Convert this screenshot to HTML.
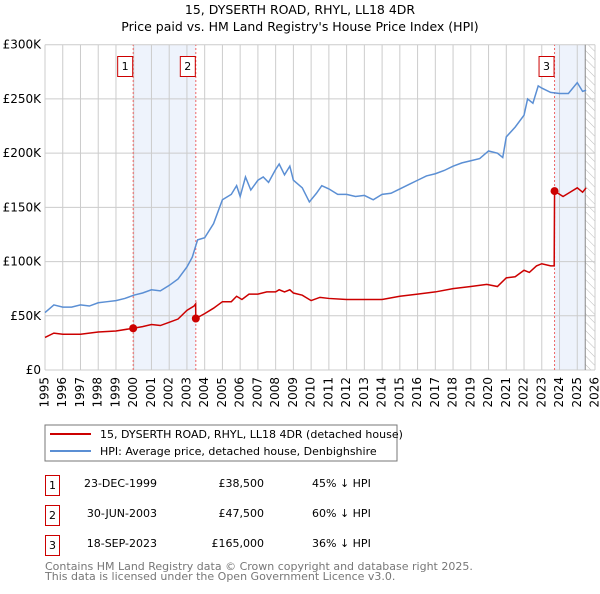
<!DOCTYPE html>
<html><head><meta charset="utf-8"><style>
body{margin:0;background:#fff;font-family:"DejaVu Sans","Liberation Sans",sans-serif;}
svg text{font-family:"DejaVu Sans","Liberation Sans",sans-serif;}
</style></head><body>
<svg id="chart" width="600" height="590" xmlns="http://www.w3.org/2000/svg">
<defs><pattern id="hatch" width="6" height="6" patternUnits="userSpaceOnUse" patternTransform="rotate(-45)"><line x1="0" y1="0" x2="0" y2="6" stroke="#bbb" stroke-width="1"/></pattern></defs>
<text x="300" y="14" text-anchor="middle" font-size="12.5" fill="#000">15, DYSERTH ROAD, RHYL, LL18 4DR</text>
<text x="300" y="31" text-anchor="middle" font-size="12.5" fill="#000">Price paid vs. HM Land Registry's House Price Index (HPI)</text>
<g id="plot"></g>
<rect x="45" y="425" width="352" height="36" fill="#fff" stroke="#777"/>
<line x1="50" y1="434" x2="91" y2="434" stroke="#cc0000" stroke-width="2"/>
<text x="100" y="438" font-size="11">15, DYSERTH ROAD, RHYL, LL18 4DR (detached house)</text>
<line x1="50" y1="451" x2="91" y2="451" stroke="#5b8fd4" stroke-width="2"/>
<text x="100" y="455" font-size="11">HPI: Average price, detached house, Denbighshire</text>
<g font-size="11">
<rect x="45.5" y="475.5" width="14" height="20" fill="none" stroke="#cc0000"/><text x="52.5" y="489" text-anchor="middle">1</text>
<text x="157" y="487" text-anchor="end">23-DEC-1999</text><text x="264" y="487" text-anchor="end">£38,500</text><text x="312" y="487">45% ↓ HPI</text>
<rect x="45.5" y="505.5" width="14" height="20" fill="none" stroke="#cc0000"/><text x="52.5" y="519" text-anchor="middle">2</text>
<text x="157" y="517" text-anchor="end">30-JUN-2003</text><text x="264" y="517" text-anchor="end">£47,500</text><text x="312" y="517">60% ↓ HPI</text>
<rect x="45.5" y="535.5" width="14" height="20" fill="none" stroke="#cc0000"/><text x="52.5" y="549" text-anchor="middle">3</text>
<text x="157" y="547" text-anchor="end">18-SEP-2023</text><text x="264" y="547" text-anchor="end">£165,000</text><text x="312" y="547">36% ↓ HPI</text>
</g>
<text x="45" y="570" font-size="11" fill="#777">Contains HM Land Registry data © Crown copyright and database right 2025.</text>
<text x="45" y="580" font-size="11" fill="#777">This data is licensed under the Open Government Licence v3.0.</text>
</svg>
<script>
const hpiYears=[1995,1995.5,1996,1996.5,1997,1997.5,1998,1998.5,1999,1999.5,2000,2000.5,2001,2001.5,2002,2002.5,2003,2003.3,2003.6,2004,2004.5,2005,2005.5,2005.8,2006,2006.3,2006.6,2007,2007.3,2007.6,2008,2008.2,2008.5,2008.8,2009,2009.5,2009.9,2010.3,2010.6,2011,2011.5,2012,2012.5,2013,2013.5,2014,2014.5,2015,2015.5,2016,2016.5,2017,2017.5,2018,2018.5,2019,2019.5,2020,2020.5,2020.8,2021,2021.5,2022,2022.2,2022.5,2022.8,2023,2023.5,2024,2024.5,2025,2025.3,2025.5];
const hpiValues=[53,60,58,58,60,59,62,63,64,66,69,71,74,73,78,84,95,104,120,122,135,157,162,170,160,178,166,175,178,173,185,190,180,188,175,168,155,163,170,167,162,162,160,161,157,162,163,167,171,175,179,181,184,188,191,193,195,202,200,196,215,224,235,250,246,262,260,256,255,255,265,257,258];
const priceYears=[1995,1995.5,1996,1997,1998,1999,1999.97,2000.5,2001,2001.5,2002,2002.5,2003,2003.4,2003.49,2003.5,2004,2004.5,2005,2005.5,2005.8,2006.1,2006.5,2007,2007.5,2008,2008.2,2008.5,2008.8,2009,2009.5,2010,2010.5,2011,2012,2013,2014,2015,2016,2017,2018,2019,2019.9,2020.5,2021,2021.5,2022,2022.3,2022.7,2023,2023.5,2023.7,2023.72,2024.2,2024.5,2025,2025.3,2025.5];
const priceValues=[30,34,33,33,35,36,38.5,40,42,41,44,47,55,59,61,47.5,52,57,63,63,68,65,70,70,72,72,74,72,74,71,69,64,67,66,65,65,65,68,70,72,75,77,79,77,85,86,92,90,96,98,96,96,165,160,163,168,164,168];
const saleYears=[1999.97,2003.5,2023.72];
const saleValues=[38.5,47.5,165];
const saleLabels=["1","2","3"];
const yTicks=[0,50,100,150,200,250,300];
const yTickLabels=["£0","£50K","£100K","£150K","£200K","£250K","£300K"];
const xTicks=[];for(let y=1995;y<=2026;y++)xTicks.push(y);

const X=v=>45+(v-1995)*(550/31);
const Y=v=>370-v*1.0843;
const NS="http://www.w3.org/2000/svg";
const g=document.getElementById('plot');
function mk(t,a){const e=document.createElementNS(NS,t);for(const k in a)e.setAttribute(k,a[k]);g.appendChild(e);return e;}
let e;
e=mk('rect',{x:X(saleYears[0]),y:Y(300),width:X(saleYears[1])-X(saleYears[0]),height:Y(0)-Y(300),fill:'#eef3fc'});


e=mk('rect',{x:X(saleYears[2]),y:Y(300),width:X(2025.45)-X(saleYears[2]),height:Y(0)-Y(300),fill:'#eef3fc'});


e=mk('rect',{x:X(2025.45),y:Y(300),width:X(2026)-X(2025.45),height:Y(0)-Y(300),fill:'url(#hatch)'});


xTicks.forEach(t=>{
 e=mk('line',{x1:X(t),x2:X(t),y1:Y(0),y2:Y(300),stroke:'#ccc','stroke-width':1});
 
 
 e=mk('text',{x:X(t),y:Y(0)+7,'font-size':12,'text-anchor':'end','dominant-baseline':'middle',transform:`rotate(-90 ${X(t)} ${Y(0)+7})`});
 e.textContent=t;
 
 
});
yTicks.forEach((t,i)=>{
 e=mk('line',{x1:X(1995),x2:X(2026),y1:Y(t),y2:Y(t),stroke:'#ccc','stroke-width':1});
 
 
 e=mk('text',{x:41,y:Y(t)+4,'font-size':12,'text-anchor':'end'});
 e.textContent=yTickLabels[i];
 
 
});
e=mk('line',{x1:X(2025.45),x2:X(2025.45),y1:Y(0),y2:Y(300),stroke:'#888','stroke-width':1});


saleYears.forEach((s,i)=>{
 e=mk('line',{x1:X(s),x2:X(s),y1:Y(0),y2:Y(300),stroke:'#e66','stroke-width':1,'stroke-dasharray':'2,2'});
 
 
});
e=mk('polyline',{points:hpiYears.map((y,i)=>X(y)+','+Y(hpiValues[i])).join(' '),fill:'none',stroke:'#5b8fd4','stroke-width':1.5});


e=mk('polyline',{points:priceYears.map((y,i)=>X(y)+','+Y(priceValues[i])).join(' '),fill:'none',stroke:'#cc0000','stroke-width':1.5});


saleYears.forEach((s,i)=>{
 e=mk('circle',{cx:X(s),cy:Y(saleValues[i]),r:4,fill:'#cc0000'});
 
 
 const bx=X(s)-8;
 e=mk('rect',{x:bx-7.5,y:56.5,width:15,height:20,fill:'#fff',stroke:'#cc0000'});
 
 
 e=mk('text',{x:bx,y:70,'font-size':11,'text-anchor':'middle'});
 e.textContent=saleLabels[i];
 
 
});
</script>
</body></html>
